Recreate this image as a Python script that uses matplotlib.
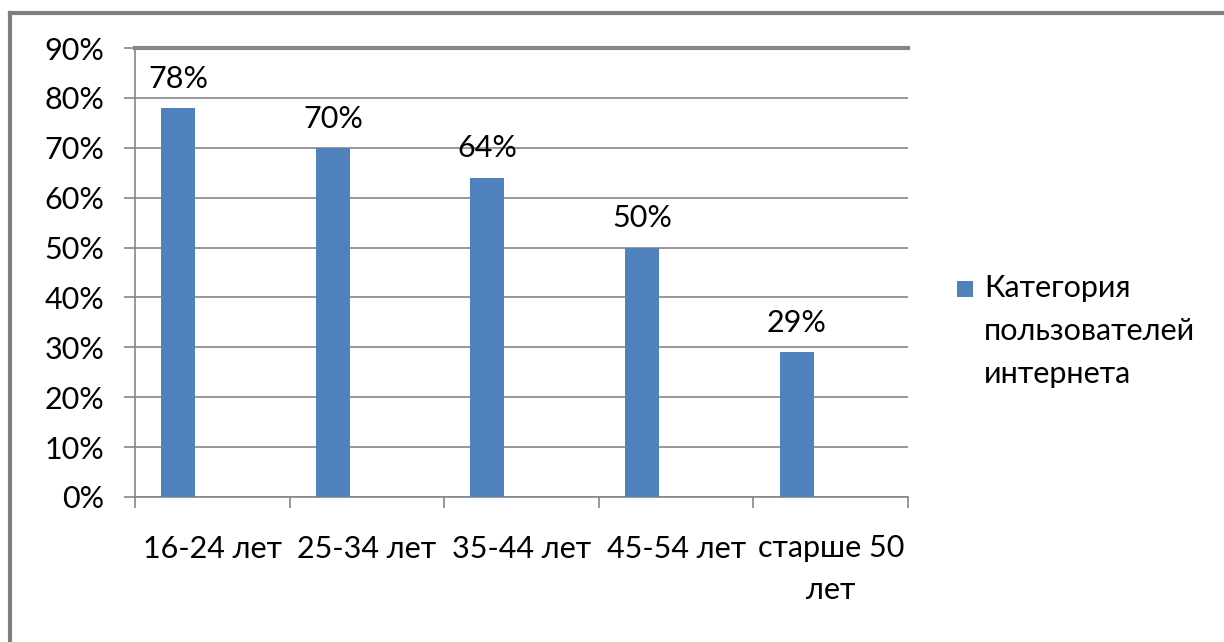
import matplotlib
matplotlib.use('Agg')
from matplotlib import pyplot as plt
from matplotlib.lines import Line2D
from matplotlib.patches import Rectangle


# Data
categories = ['16-24 лет', '25-34 лет', '35-44 лет', '45-54 лет', 'старше 50\nлет']
values = [78, 70, 64, 50, 29]
series_lines = ['Категория', 'пользователей', 'интернета']
y_ticks = [0, 10, 20, 30, 40, 50, 60, 70, 80, 90]

bar_color = '#4F81BD'
grid_color = '#868686'
fs = 22

plt.rcParams['font.family'] = ['Lato', 'DejaVu Sans']

fig = plt.figure(figsize=(12.24, 6.42), dpi=100)
ax = fig.add_axes([135 / 1224, 1 - 497 / 642, (908 - 135) / 1224, (497 - 48) / 642])

# Bars (offset left, like an Excel chart with empty extra series)
positions = [i - 0.22 for i in range(len(categories))]
ax.bar(positions, values, width=0.22, color=bar_color, zorder=3)

for x, v in zip(positions, values):
    ax.annotate(f'{v}%', (x, v), xytext=(0, 11), textcoords='offset points',
                ha='center', va='bottom', fontsize=fs)

# Axes
ax.set_xlim(-0.5, len(categories) - 0.5)
ax.set_ylim(0, 90)
ax.set_yticks(y_ticks)
ax.set_yticklabels([f'{t}%' for t in y_ticks], fontsize=fs)
ax.yaxis.grid(True, color=grid_color, linewidth=1.2, zorder=0)

ax.set_xticks(range(len(categories)))
ax.set_xticklabels(categories, fontsize=fs, linespacing=1.6, va='top')
ax.set_xticks([i - 0.5 for i in range(len(categories) + 1)], minor=True)
ax.tick_params(axis='x', which='major', length=0, pad=27)
ax.tick_params(axis='x', which='minor', length=8, color=grid_color, width=1.2)
ax.tick_params(axis='y', length=8, color=grid_color, width=1.2, pad=14)

ax.spines['right'].set_visible(False)
ax.spines['top'].set_color(grid_color)
ax.spines['top'].set_linewidth(3)
for side in ['left', 'bottom']:
    ax.spines[side].set_color(grid_color)
    ax.spines[side].set_linewidth(1.2)

# Legend (square next to the first line of the label)
fig.add_artist(Rectangle((957 / 1224, 1 - 297 / 642), 16 / 1224, 16 / 642,
                         transform=fig.transFigure, facecolor=bar_color,
                         edgecolor='none'))
for k, line in enumerate(series_lines):
    fig.text(984 / 1224, 1 - (288 + 43 * k) / 642, line, fontsize=fs,
             ha='left', va='center')

# Outer frame (left and top edges visible)
fig.add_artist(Line2D([10 / 1224, 10 / 1224], [0, 1 - 13 / 642],
                      transform=fig.transFigure, color='#7F7F7F', linewidth=3))
fig.add_artist(Line2D([10 / 1224, 1], [1 - 13 / 642, 1 - 13 / 642],
                      transform=fig.transFigure, color='#7F7F7F', linewidth=3))

fig.savefig('out.png', dpi=100)
